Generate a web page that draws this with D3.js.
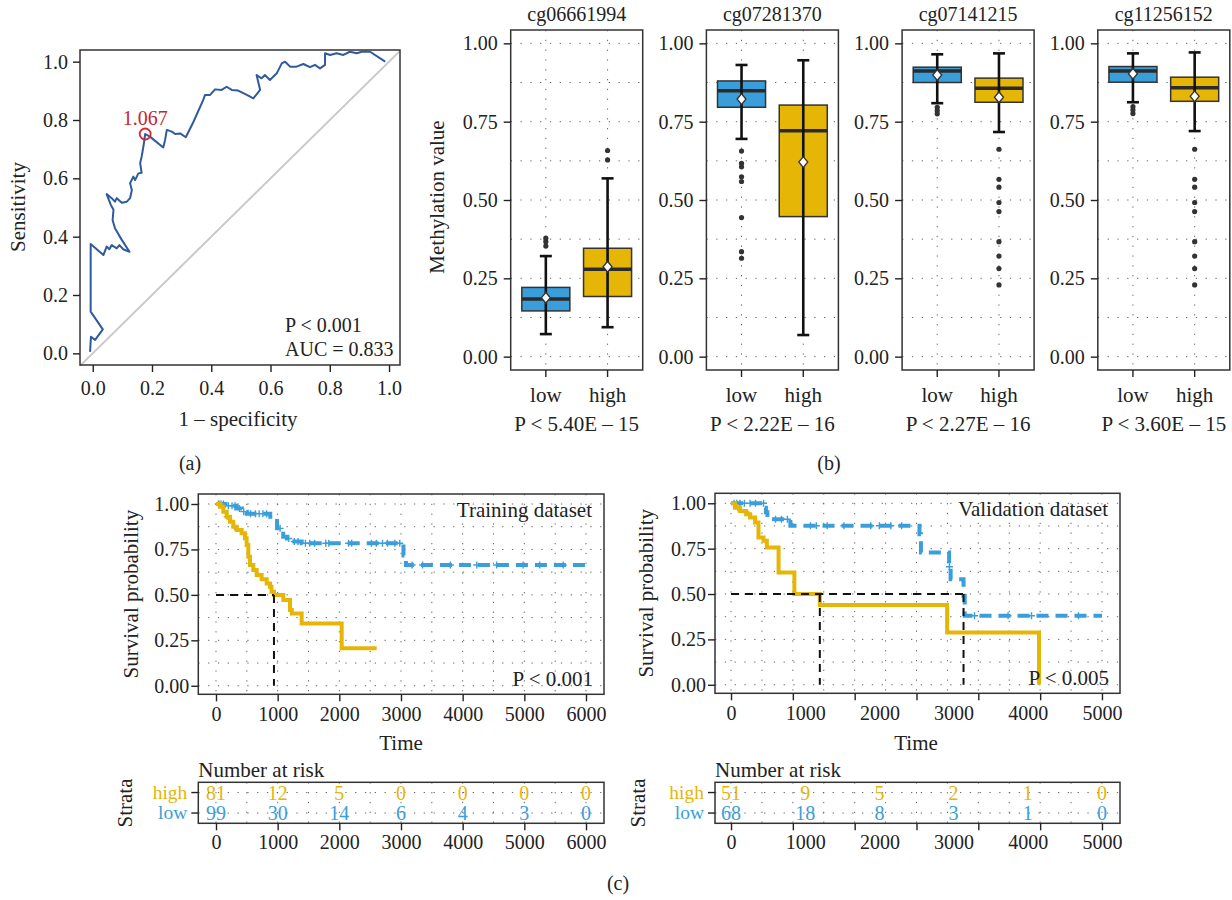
<!DOCTYPE html>
<html lang="en">
<head>
<meta charset="UTF-8">
<title>ROC, methylation boxplots and survival</title>
<script src="https://d3js.org/d3.v7.min.js"></script>
<style>
  body {margin: 0; background: #fff;}
  svg {display: block;}
  text {font-family: "Liberation Serif", "Times New Roman", serif; fill: #222;}
  .tick line {stroke: #222; stroke-width: 1.4;}
  .tick text {font-size: 20px; fill: #222;}
  .grid line {stroke: #666; stroke-width: 1; stroke-dasharray: 1.3 8.5;}
  .frame {fill: none; stroke: #333; stroke-width: 1.5;}
  .lab {font-size: 21px;}
  .num {font-size: 20px;}
</style>
</head>
<body>
<svg id="fig" width="1232" height="900"></svg>
<script>
// ---- (a) ROC curve ----
const rocFpr = [-0.009,-0.006,0.008,0.034,-0.007,-0.007,0.036,0.047,0.056,0.064,0.081,0.090,0.103,0.124,0.098,0.075,0.067,0.070,0.061,0.047,
  0.064,0.075,0.081,0.098,0.115,0.126,0.132,0.126,0.137,0.143,0.154,0.165,0.160,0.165,0.171,0.177,0.193,0.238,0.244,0.250,
  0.267,0.278,0.295,0.314,0.340,0.373,0.379,0.396,0.413,0.435,0.452,0.469,0.491,0.520,0.542,0.565,0.553,0.570,0.581,0.598,
  0.621,0.638,0.649,0.666,0.688,0.711,0.733,0.750,0.767,0.784,0.784,0.801,0.823,0.846,0.868,0.891,0.908,0.936,0.987];
const rocTpr = [0.005,0.057,0.046,0.082,0.143,0.375,0.337,0.366,0.357,0.371,0.360,0.371,0.357,0.348,0.389,0.429,0.457,0.492,0.509,0.546,
  0.532,0.520,0.532,0.516,0.520,0.532,0.560,0.583,0.606,0.594,0.617,0.619,0.652,0.674,0.709,0.752,0.743,0.706,0.731,0.766,
  0.760,0.752,0.754,0.741,0.794,0.869,0.886,0.886,0.905,0.903,0.914,0.903,0.901,0.886,0.874,0.903,0.954,0.943,0.954,0.937,
  0.960,0.994,1.000,0.983,0.983,0.992,0.981,0.989,0.977,0.989,1.029,1.023,1.029,1.023,1.034,1.029,1.034,1.034,1.000];
const rocCut = [0.177, 0.752];
const rocCutLabel = "1.067";
const rocNotes = ["P < 0.001", "AUC = 0.833"];

// ---- (b) box plots: [whisker low, Q1, median, Q3, whisker high, mean] ----
const probes = ["cg06661994", "cg07281370", "cg07141215", "cg11256152"];
const probePvals = ["P < 5.40E – 15", "P < 2.22E – 16", "P < 2.27E – 16", "P < 3.60E – 15"];
const groups = ["low", "high"];
const statsLow = [
  [0.072, 0.146, 0.184, 0.221, 0.321, 0.188],
  [0.695, 0.796, 0.849, 0.880, 0.931, 0.822],
  [0.809, 0.875, 0.912, 0.924, 0.965, 0.899],
  [0.812, 0.876, 0.912, 0.926, 0.968, 0.903]];
const statsHigh = [
  [0.094, 0.192, 0.279, 0.346, 0.569, 0.287],
  [0.069, 0.447, 0.721, 0.803, 0.946, 0.621],
  [0.717, 0.812, 0.857, 0.889, 0.968, 0.828],
  [0.720, 0.815, 0.858, 0.892, 0.971, 0.831]];
const outLow = [
  [0.353, 0.367, 0.378],
  [0.656, 0.617, 0.606, 0.574, 0.559, 0.444, 0.335, 0.314],
  [0.796, 0.785, 0.775],
  [0.798, 0.787, 0.776]];
const outHigh = [
  [0.658, 0.628],
  [],
  [0.662, 0.566, 0.541, 0.492, 0.463, 0.367, 0.321, 0.281, 0.229],
  [0.662, 0.566, 0.541, 0.492, 0.463, 0.367, 0.321, 0.281, 0.229]];

// ---- (c) Kaplan-Meier ----
const trainHighTime = [0,65,119,173,227,281,335,416,470,497,524,551,605,659,740,822,876,900,940,1092,1200,1230,1389,2038];
const trainHighSurv = [1,0.985,0.958,0.93,0.903,0.875,0.857,0.839,0.811,0.774,0.71,0.664,0.637,0.609,0.586,0.563,0.545,0.517,0.499,0.472,0.417,0.398,0.343,0.207];
const trainHighEnd = 2605;
const trainHighCens = [60, 180, 300];
const trainLowTime = [0,150,330,420,500,880,990,1090,1150,1230,1390,3040,3080];
const trainLowSurv = [1,0.99,0.975,0.958,0.947,0.93,0.866,0.82,0.81,0.793,0.784,0.716,0.664];
const trainLowEnd = 6000;
const trainLowCens = [40,80,120,200,260,310,380,450,560,640,700,760,820,1040,1180,1270,1330,1450,1520,1600,1780,1830,2150,2200,
  2520,2600,2700,2780,2900,2980,3180,3350,3800,4230,4550,4980,5250,5630];
const trainMedians = [940];

const valHighTime = [0,54,122,203,257,325,370,438,483,641,854,1197,2913,4151];
const valHighSurv = [1,0.976,0.958,0.939,0.921,0.894,0.811,0.793,0.756,0.619,0.5,0.439,0.288,0];
const valHighEnd = 4151;
const valHighCens = [90, 240];
const valLowTime = [0,450,470,490,540,800,2540,2560,2940,2960,3134,3150];
const valLowSurv = [1,0.976,0.95,0.92,0.912,0.876,0.83,0.729,0.65,0.582,0.49,0.38];
const valLowEnd = 5000;
const valLowCens = [40,77,120,180,257,330,438,600,680,760,1070,1150,1296,1522,1883,2000,2154,2300,2944,3282,3734,4050,4683];
const valMedians = [1197, 3134];

// number at risk
const trainRiskTimes = [0, 1000, 2000, 3000, 4000, 5000, 6000];
const trainRiskHigh = [81, 12, 5, 0, 0, 0, 0];
const trainRiskLow = [99, 30, 14, 6, 4, 3, 0];
const valRiskTimes = [0, 1000, 2000, 3000, 4000, 5000];
const valRiskHigh = [51, 9, 5, 2, 1, 0];
const valRiskLow = [68, 18, 8, 3, 1, 0];

const GOLD = "#E5B606", BLUE = "#3A9EDB";
const svg = d3.select("#fig");
svg.append("rect").attr("width", 1232).attr("height", 900).attr("fill", "#fff");

function cleanAxis(g) { g.select(".domain").remove(); g.attr("font-family", null).attr("font-size", null); }

// ================= (a) ROC =================
const rx = d3.scaleLinear().domain([-0.043, 1.037]).range([80, 400]);
const ry = d3.scaleLinear().domain([-0.04, 1.04]).range([365, 50]);
const roc = svg.append("g");
roc.append("line")
  .attr("x1", rx(-0.043)).attr("y1", ry(-0.043)).attr("x2", rx(1.037)).attr("y2", ry(1.037))
  .attr("stroke", "#c9c9c9").attr("stroke-width", 2);
roc.append("path")
  .datum(d3.zip(rocFpr, rocTpr))
  .attr("d", d3.line().x(d => rx(d[0])).y(d => ry(d[1])))
  .attr("fill", "none").attr("stroke", "#2F5B9E").attr("stroke-width", 2).attr("stroke-linejoin", "round");
roc.append("circle").attr("cx", rx(rocCut[0])).attr("cy", ry(rocCut[1])).attr("r", 5.5)
  .attr("fill", "none").attr("stroke", "#d6262e").attr("stroke-width", 1.8);
roc.append("text").attr("x", rx(rocCut[0])).attr("y", ry(rocCut[1]) - 9)
  .attr("text-anchor", "middle").attr("class", "num").style("fill", "#c3282f").text(rocCutLabel);
roc.append("text").attr("x", rx(0.649)).attr("y", ry(0.074)).attr("class", "num").text(rocNotes[0]);
roc.append("text").attr("x", rx(0.649)).attr("y", ry(-0.009)).attr("class", "num").text(rocNotes[1]);
roc.append("rect").attr("class", "frame").attr("x", 80).attr("y", 50).attr("width", 320).attr("height", 315);
roc.append("g").attr("transform", "translate(0,365)")
  .call(d3.axisBottom(rx).tickValues(d3.range(0, 1.01, 0.2)).tickFormat(d3.format(".1f")).tickSize(7).tickPadding(9))
  .call(cleanAxis);
roc.append("g").attr("transform", "translate(80,0)")
  .call(d3.axisLeft(ry).tickValues(d3.range(0, 1.01, 0.2)).tickFormat(d3.format(".1f")).tickSize(7).tickPadding(5))
  .call(cleanAxis);
roc.append("text").attr("class", "lab").attr("text-anchor", "middle")
  .attr("transform", "translate(25,207) rotate(-90)").text("Sensitivity");
roc.append("text").attr("class", "lab").attr("text-anchor", "middle").attr("x", 238).attr("y", 426).text("1 – specificity");
svg.append("text").attr("class", "num").attr("text-anchor", "middle").attr("x", 190).attr("y", 470).text("(a)");

// ================= (b) box plots =================
const by = d3.scaleLinear().domain([-0.0426, 1.0426]).range([370, 30]);
const boxW = 132;
probes.forEach((probe, i) => {
  const x0 = 510.7 + i * 195.7;
  const xb = d3.scaleBand().domain(groups).range([x0, x0 + boxW]).paddingInner(0.222).paddingOuter(0.18);
  const cx = k => xb(k) + xb.bandwidth() / 2;
  const g = svg.append("g");
  g.append("g").attr("class", "grid").selectAll("line").data(d3.range(0, 1.0001, 0.125)).join("line")
    .attr("x1", x0).attr("x2", x0 + boxW).attr("y1", d => by(d)).attr("y2", d => by(d));
  g.append("g").attr("class", "grid").selectAll("line").data(groups).join("line")
    .attr("x1", cx).attr("x2", cx).attr("y1", 30).attr("y2", 370);

  [[groups[0], statsLow[i], outLow[i], BLUE], [groups[1], statsHigh[i], outHigh[i], GOLD]].forEach(([grp, s, outs, col]) => {
    const c = cx(grp), bw = xb.bandwidth();
    g.append("rect").attr("x", xb(grp)).attr("width", bw)
      .attr("y", by(s[3])).attr("height", by(s[1]) - by(s[3]))
      .attr("fill", col).attr("stroke", "#333").attr("stroke-width", 1.5);
    g.append("line").attr("x1", xb(grp)).attr("x2", xb(grp) + bw).attr("y1", by(s[2])).attr("y2", by(s[2]))
      .attr("stroke", "#2b2b2b").attr("stroke-width", 3.5);
    g.append("line").attr("x1", c).attr("x2", c).attr("y1", by(s[0])).attr("y2", by(s[4]))
      .attr("stroke", "#111").attr("stroke-width", 2.6);
    [s[0], s[4]].forEach(v => g.append("line").attr("x1", c - 6).attr("x2", c + 6).attr("y1", by(v)).attr("y2", by(v))
      .attr("stroke", "#111").attr("stroke-width", 2.6));
    g.selectAll(null).data(outs).join("circle").attr("cx", c).attr("cy", d => by(d)).attr("r", 2.6).attr("fill", "#333");
    g.append("path").attr("d", d3.symbol(d3.symbolDiamond, 52)())
      .attr("transform", `translate(${c},${by(s[5])}) scale(1.15,0.8)`)
      .attr("fill", "#fff").attr("stroke", "#333").attr("stroke-width", 1.3);
  });

  g.append("rect").attr("class", "frame").attr("x", x0).attr("y", 30).attr("width", boxW).attr("height", 340);
  g.append("g").attr("transform", `translate(${x0},0)`)
    .call(d3.axisLeft(by).tickValues([0, 0.25, 0.5, 0.75, 1]).tickFormat(d3.format(".2f")).tickSize(7).tickPadding(6))
    .call(cleanAxis);
  g.append("g").attr("transform", "translate(0,370)")
    .call(d3.axisBottom(xb).tickSize(7).tickPadding(10))
    .call(cleanAxis)
    .call(a => a.selectAll(".tick text").style("font-size", "21px"));
  g.append("text").attr("class", "num").attr("text-anchor", "middle").attr("x", x0 + boxW / 2).attr("y", 21).text(probe);
  g.append("text").attr("class", "lab").attr("text-anchor", "middle").attr("x", x0 + boxW / 2).attr("y", 431).text(probePvals[i]);
});
svg.append("text").attr("class", "lab").attr("text-anchor", "middle")
  .attr("transform", "translate(444,197) rotate(-90)").text("Methylation value");
svg.append("text").attr("class", "num").attr("text-anchor", "middle").attr("x", 829).attr("y", 470).text("(b)");

// ================= (c) Kaplan-Meier =================
function survAt(times, surv, t) {
  let s = surv[0];
  times.forEach((tt, k) => { if (tt <= t) s = surv[k]; });
  return s;
}

function kmPanel(p) {
  const g = svg.append("g");
  const [xa, xe] = p.x.range(), [yb, ya] = p.y.range();
  g.append("g").attr("class", "grid").selectAll("line").data(d3.range(0, 1.0001, 0.125)).join("line")
    .attr("x1", xa).attr("x2", xe).attr("y1", d => p.y(d)).attr("y2", d => p.y(d));
  g.append("g").attr("class", "grid").selectAll("line").data(p.gridX).join("line")
    .attr("x1", d => p.x(d)).attr("x2", d => p.x(d)).attr("y1", ya).attr("y2", yb);

  const line = d3.line().curve(d3.curveStepAfter).x(d => p.x(d[0])).y(d => p.y(d[1]));
  p.curves.forEach(c => {
    const pts = d3.zip(c.time, c.surv);
    pts.push([c.end, c.surv[c.surv.length - 1]]);
    g.append("path").datum(pts).attr("d", line).attr("fill", "none")
      .attr("stroke", c.color).attr("stroke-width", 4).attr("stroke-dasharray", c.dash);
    g.selectAll(null).data(c.cens).join("path")
      .attr("d", "M-3.5,0H3.5M0,-3.5V3.5")
      .attr("transform", t => `translate(${p.x(t)},${p.y(survAt(c.time, c.surv, t))})`)
      .attr("stroke", c.color).attr("stroke-width", 1.4);
  });
  // median survival lines
  const mMax = d3.max(p.medians);
  g.append("line").attr("x1", p.x(0)).attr("x2", p.x(mMax)).attr("y1", p.y(0.5)).attr("y2", p.y(0.5))
    .attr("stroke", "#111").attr("stroke-width", 2).attr("stroke-dasharray", "8 6");
  g.selectAll(null).data(p.medians).join("line")
    .attr("x1", d => p.x(d)).attr("x2", d => p.x(d)).attr("y1", p.y(0.5)).attr("y2", p.y(0))
    .attr("stroke", "#111").attr("stroke-width", 2).attr("stroke-dasharray", "8 6");

  g.append("rect").attr("class", "frame").attr("x", xa).attr("y", ya).attr("width", xe - xa).attr("height", yb - ya);
  g.append("g").attr("transform", `translate(${xa},0)`)
    .call(d3.axisLeft(p.y).tickValues([0, 0.25, 0.5, 0.75, 1]).tickFormat(d3.format(".2f")).tickSize(7).tickPadding(2))
    .call(cleanAxis);
  g.append("g").attr("transform", `translate(0,${yb})`)
    .call(d3.axisBottom(p.x).tickValues(p.tickX).tickFormat("").tickSize(7))
    .call(cleanAxis);
  g.append("g").attr("transform", `translate(0,${yb})`)
    .call(d3.axisBottom(p.x).tickValues(p.labelX).tickFormat(d3.format("d")).tickSize(0).tickPadding(13))
    .call(cleanAxis);
  g.append("text").attr("class", "lab").attr("text-anchor", "middle")
    .attr("transform", `translate(${p.yLabelX},${(ya + yb) / 2}) rotate(-90)`).text("Survival probability");
  g.append("text").attr("class", "lab").attr("text-anchor", "middle").attr("x", p.timeX).attr("y", 750).text("Time");
  g.append("text").attr("class", "lab").attr("text-anchor", "end")
    .attr("x", xe - 12).attr("y", ya + 23).text(p.title);
  g.append("text").attr("class", "lab").attr("text-anchor", "end")
    .attr("x", xe - 11).attr("y", yb - 8).text(p.pval);
}

function riskTable(p) {
  const g = svg.append("g");
  const [xa, xe] = p.x.range();
  const ry2 = d3.scaleBand().domain(["high", "low"]).range([782.3, 823.3]);
  const rc = k => ry2(k) + ry2.bandwidth() / 2;
  g.append("g").attr("class", "grid").selectAll("line").data(["high", "low"]).join("line")
    .attr("x1", xa).attr("x2", xe).attr("y1", rc).attr("y2", rc);
  g.append("g").attr("class", "grid").selectAll("line").data(p.gridX).join("line")
    .attr("x1", d => p.x(d)).attr("x2", d => p.x(d)).attr("y1", 782.3).attr("y2", 823.3);
  [["high", p.high, GOLD], ["low", p.low, BLUE]].forEach(([k, vals, col]) => {
    g.selectAll(null).data(vals).join("text")
      .attr("x", (d, j) => p.x(p.times[j])).attr("y", rc(k)).attr("dy", "0.35em")
      .attr("text-anchor", "middle").attr("class", "num").style("fill", col).text(d => d);
  });
  g.append("rect").attr("class", "frame").attr("x", xa).attr("y", 782.3).attr("width", xe - xa).attr("height", 41);
  g.append("g").attr("transform", `translate(${xa},0)`)
    .call(d3.axisLeft(ry2).tickSize(7).tickPadding(4))
    .call(cleanAxis)
    .call(a => a.selectAll(".tick text").style("font-size", "19.5px").style("fill", d => d === "high" ? GOLD : BLUE));
  g.append("g").attr("transform", "translate(0,823.3)")
    .call(d3.axisBottom(p.x).tickValues(p.tickX).tickFormat("").tickSize(7))
    .call(cleanAxis);
  g.append("g").attr("transform", "translate(0,823.3)")
    .call(d3.axisBottom(p.x).tickValues(p.times).tickFormat(d3.format("d")).tickSize(0).tickPadding(12))
    .call(cleanAxis);
  g.append("text").attr("class", "lab").attr("x", xa).attr("y", 777).text("Number at risk");
  g.append("text").attr("class", "lab").attr("text-anchor", "middle")
    .attr("transform", `translate(${p.strataX},803) rotate(-90)`).text("Strata");
}

const tx = d3.scaleLinear().domain([-287, 6292]).range([198.3, 604]);
const ty = d3.scaleLinear().domain([-0.047, 1.055]).range([694.3, 494]);
kmPanel({
  x: tx, y: ty, gridX: d3.range(0, 6001, 500), tickX: trainRiskTimes, labelX: trainRiskTimes,
  medians: trainMedians, title: "Training dataset", pval: "P < 0.001", yLabelX: 138, timeX: 401,
  curves: [
    {time: trainLowTime, surv: trainLowSurv, end: trainLowEnd, cens: trainLowCens, color: BLUE, dash: "12 7"},
    {time: trainHighTime, surv: trainHighSurv, end: trainHighEnd, cens: trainHighCens, color: GOLD, dash: null}]
});
riskTable({x: tx, gridX: d3.range(0, 6001, 500), tickX: trainRiskTimes, times: trainRiskTimes,
  high: trainRiskHigh, low: trainRiskLow, strataX: 132});

const vx = d3.scaleLinear().domain([-216, 5243]).range([715, 1120]);
const vy = d3.scaleLinear().domain([-0.047, 1.055]).range([693.3, 493.3]);
const valTicks = d3.range(7).map(k => k * 5000 / 6);
const valGrid = d3.range(13).map(k => k * 5000 / 12);
kmPanel({
  x: vx, y: vy, gridX: valGrid, tickX: valTicks, labelX: valRiskTimes,
  medians: valMedians, title: "Validation dataset", pval: "P < 0.005", yLabelX: 653, timeX: 916,
  curves: [
    {time: valLowTime, surv: valLowSurv, end: valLowEnd, cens: valLowCens, color: BLUE, dash: "12 7"},
    {time: valHighTime, surv: valHighSurv, end: valHighEnd, cens: valHighCens, color: GOLD, dash: null}]
});
riskTable({x: vx, gridX: valGrid, tickX: valTicks, times: valRiskTimes,
  high: valRiskHigh, low: valRiskLow, strataX: 645});

svg.append("text").attr("class", "num").attr("text-anchor", "middle").attr("x", 618).attr("y", 890).text("(c)");
</script>
</body>
</html>
